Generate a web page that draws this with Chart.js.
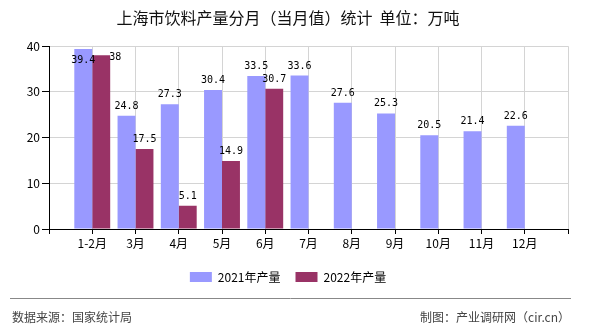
<!DOCTYPE html>
<html>
<head>
<meta charset="utf-8">
<script src="https://cdn.jsdelivr.net/npm/chart.js@4.4.1/dist/chart.umd.min.js"></script>
<style>
  body { margin: 0; background: #fff; }
  #chart { display: block; }
</style>
</head>
<body>
<canvas id="chart" width="590" height="330"></canvas>
<script>

  var months = ['1-2月', '3月', '4月', '5月', '6月', '7月', '8月', '9月', '10月', '11月', '12月'];
  var output2021 = [39.4, 24.8, 27.3, 30.4, 33.5, 33.6, 27.6, 25.3, 20.5, 21.4, 22.6];
  var output2022 = [38, 17.5, 5.1, 14.9, 30.7, null, null, null, null, null, null];
  var seriesNames = ['2021年产量', '2022年产量'];
  var yTicks = [0, 10, 20, 30, 40];

  var cjk = "'Noto Sans CJK SC', 'Noto Sans', sans-serif";

  // blank slot at each end so the months sit on the inner grid lines
  function padded(arr) { return [null].concat(arr, [null]); }

  var valueLabels = {
    id: 'valueLabels',
    afterDatasetsDraw: function(chart) {
      var ctx = chart.ctx;
      var top = chart.chartArea.top;
      ctx.save();
      ctx.font = "10px 'DejaVu Sans Mono', monospace";
      ctx.fillStyle = '#000';
      chart.data.datasets.forEach(function(ds, di) {
        var meta = chart.getDatasetMeta(di);
        meta.data.forEach(function(bar, i) {
          var v = ds.data[i];
          if (v === null || v === undefined) return;
          var txt = String(v);
          var y = bar.y - 9.5;
          if (y - 8 < top) {
            if (di === 0) {
              ctx.textAlign = 'center';
              ctx.fillText(txt, bar.x, bar.y + 11.5);
            } else {
              ctx.textAlign = 'left';
              ctx.fillText(txt, bar.x + bar.width / 2 - 1, bar.y + 2.5);
            }
            return;
          }
          ctx.textAlign = 'center';
          ctx.fillText(txt, bar.x, y);
        });
      });
      ctx.restore();
    }
  };

  var footer = {
    id: 'footer',
    afterDraw: function(chart) {
      var ctx = chart.ctx;
      ctx.save();
      ctx.strokeStyle = '#888';
      ctx.lineWidth = 1;
      ctx.beginPath();
      ctx.moveTo(10, 298.5);
      ctx.lineTo(571, 298.5);
      ctx.stroke();
      ctx.font = '12px ' + cjk;
      ctx.fillStyle = '#444';
      ctx.textBaseline = 'middle';
      ctx.textAlign = 'left';
      ctx.fillText('数据来源：国家统计局', 12, 317);
      ctx.textAlign = 'right';
      ctx.fillText('制图：产业调研网（cir.cn）', 570, 317);
      ctx.restore();
    }
  };

  var config = {
    type: 'bar',
    data: {
      labels: [''].concat(months, ['']),
      datasets: [{
        label: seriesNames[0],
        data: padded(output2021),
        backgroundColor: '#9999FF'
      }, {
        label: seriesNames[1],
        data: padded(output2022),
        backgroundColor: '#993366'
      }]
    },
    options: {
      responsive: false,
      animation: false,
      layout: { padding: { left: 8, right: 22, top: 0, bottom: 37 } },
      datasets: { bar: { categoryPercentage: 0.83, barPercentage: 1 } },
      scales: {
        x: {
          offset: false,
          grid: { offset: false, color: '#d4d4d4', tickColor: '#000', tickLength: 5 },
          border: { color: '#000' },
          ticks: { color: '#000', font: { size: 12, family: cjk }, maxRotation: 0, autoSkip: false, padding: 2 },
          afterFit: function(s) { s.height = 27; }
        },
        y: {
          min: yTicks[0],
          max: yTicks[yTicks.length - 1],
          afterBuildTicks: function(s) { s.ticks = yTicks.map(function(v) { return { value: v }; }); },
          grid: { color: '#d4d4d4', tickColor: '#000', tickLength: 7 },
          border: { color: '#000' },
          ticks: { color: '#000', font: { size: 12, family: cjk }, padding: 2 },
          afterFit: function(s) { s.width = 41; }
        }
      },
      plugins: {
        title: {
          display: true,
          text: '上海市饮料产量分月（当月值）统计  单位：万吨',
          color: '#111',
          font: { size: 16, family: cjk, weight: 'normal' },
          padding: { top: 8, bottom: 19 }
        },
        legend: {
          position: 'bottom',
          labels: {
            boxWidth: 22,
            boxHeight: 10,
            padding: 15,
            color: '#000',
            font: { size: 12, family: cjk }
          }
        },
        tooltip: { enabled: false }
      }
    },
    plugins: [valueLabels, footer]
  };

  window.onload = function() {
    var ctx = document.getElementById('chart').getContext('2d');
    window.myBar = new Chart(ctx, config);
  };

</script>
</body>
</html>
